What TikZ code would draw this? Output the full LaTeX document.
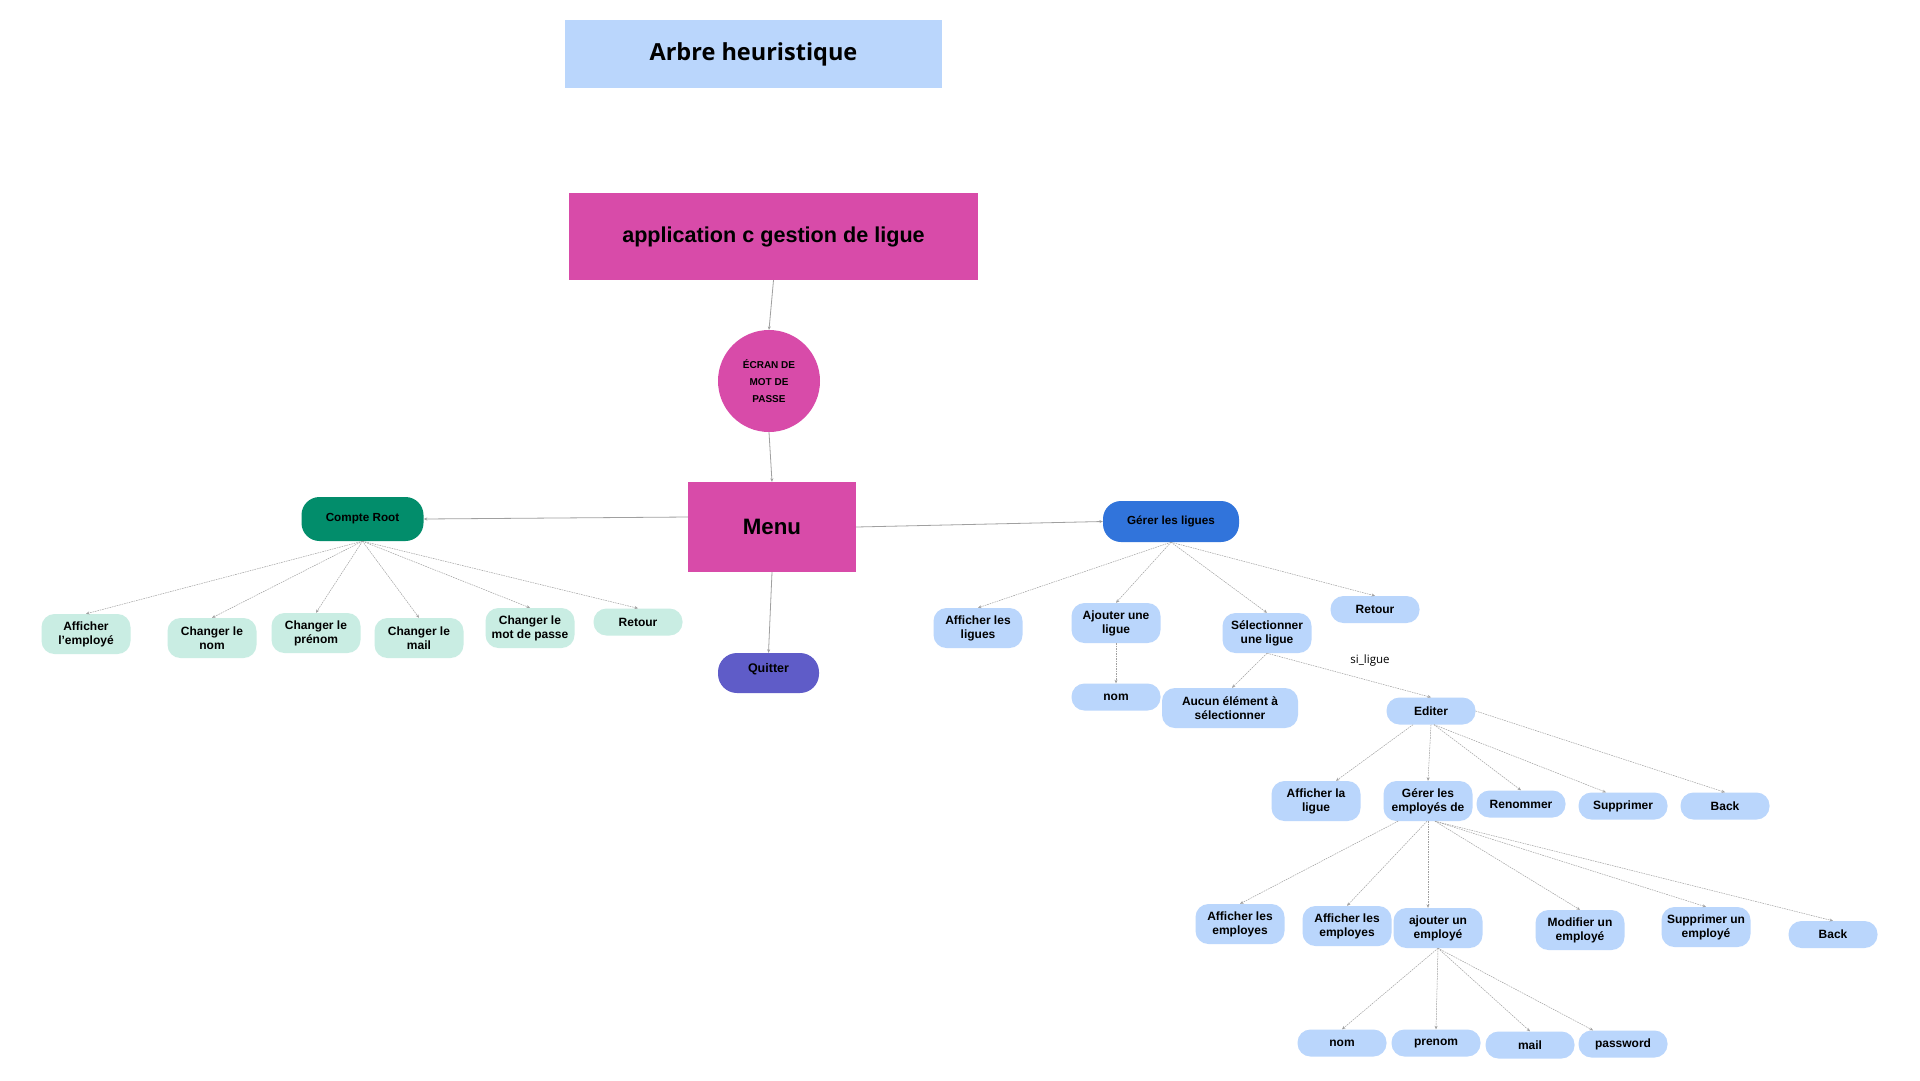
\documentclass[tikz,border=0pt]{standalone}
\usepackage{fontspec}
\setmainfont{Liberation Sans}
\newfontfamily\titlefont{Open Sans}
\newfontfamily\labelfont{Open Sans}
\usetikzlibrary{arrows.meta}
\definecolor{lblue}{HTML}{BAD6FC}
\definecolor{pinkc}{HTML}{D84BA9}
\definecolor{tealc}{HTML}{028D6B}
\definecolor{mintc}{HTML}{C9EDE3}
\definecolor{bluec}{HTML}{3174DB}
\definecolor{violc}{HTML}{5F5CC8}
\definecolor{linec}{HTML}{A0A0A0}
\tikzset{
  base/.style={inner sep=0pt, align=center, text=black, font=\bfseries\fontsize{12}{14}\selectfont},
  mint/.style={base, fill=mintc, rounded corners=13pt, minimum width=89pt, minimum height=40pt},
  blu/.style={base, fill=lblue, rounded corners=13pt, minimum width=89pt, minimum height=40pt},
  short/.style={minimum height=27pt},
  conn/.style={draw=linec, line width=0.8pt, -{Stealth[length=3.5pt,width=3pt]}},
  sub/.style={draw=linec, line width=0.5pt, dash pattern=on 1.6pt off 0.9pt, -{Stealth[length=3.5pt,width=3pt]}}
}
\begin{document}
\begin{tikzpicture}[x=1pt,y=-1pt]
\useasboundingbox (0,0) rectangle (1920,1080);
\fill[white] (0,0) rectangle (1920,1080);

% top
\node[base, fill=lblue, minimum width=377pt, minimum height=68pt, font=\titlefont\bfseries\fontsize{23.5}{26}\selectfont] (title) at (753.5,54) {Arbre heuristique};
\node[base, fill=pinkc, minimum width=409pt, minimum height=87pt, font=\bfseries\fontsize{21.6}{24}\selectfont] (app) at (773.5,236.5) {application c gestion de ligue};
\node[base, circle, fill=pinkc, minimum size=102pt, font=\bfseries\fontsize{10}{17}\selectfont] (ecran) at (769,381) {ÉCRAN DE\\MOT DE\\PASSE};
\node[base, fill=pinkc, minimum width=168pt, minimum height=90pt, font=\bfseries\fontsize{22.3}{24}\selectfont] (menu) at (772,527) {Menu};
\node[base, fill=violc, rounded corners=19pt, minimum width=101pt, minimum height=40pt, font=\bfseries\fontsize{12.5}{14}\selectfont] (quit) at (768.5,673) {\raisebox{10pt}{Quitter}};
\node[base, fill=tealc, rounded corners=18pt, minimum width=122pt, minimum height=44pt, font=\bfseries\fontsize{11.7}{14}\selectfont] (root) at (362.5,519) {Compte Root};
\node[base, fill=bluec, rounded corners=18pt, minimum width=136pt, minimum height=41pt, font=\bfseries\fontsize{11.7}{14}\selectfont] (gl) at (1171,521.5) {Gérer les ligues};

% Compte Root children
\node[mint] (r1) at (86,634) {Afficher\\l'employé};
\node[mint] (r2) at (212,638) {Changer le\\nom};
\node[mint] (r3) at (316,633) {Changer le\\prénom};
\node[mint] (r4) at (419,638) {Changer le\\mail};
\node[mint] (r5) at (530,628) {Changer le\\mot de passe};
\node[mint, short] (r6) at (638,622) {Retour};

% Gerer les ligues children
\node[blu] (g1) at (978,628) {Afficher les\\ligues};
\node[blu] (g2) at (1116,623) {Ajouter une\\ligue};
\node[blu] (g3) at (1267,633) {Sélectionner\\une ligue};
\node[blu, short] (g4) at (1375,609.5) {Retour};
\node[blu, short] (gnom) at (1116,697) {nom};
\node[blu, minimum width=136pt] (aucun) at (1230,708) {Aucun élément à\\sélectionner};
\node[blu, short] (edit) at (1431,711) {Editer};
\node[inner sep=0pt, font=\labelfont\fontsize{11.5}{13}\selectfont] (silig) at (1370,661) {si\_ligue};

% Editer children
\node[blu] (e1) at (1316,801) {Afficher la\\ligue};
\node[blu] (e2) at (1428,801) {Gérer les\\employés de};
\node[blu, short] (e3) at (1521,804) {Renommer};
\node[blu, short] (e4) at (1623,806) {Supprimer};
\node[blu, short] (e5) at (1725,806) {Back};

% Gerer les employes children
\node[blu] (m1) at (1240,924) {Afficher les\\employes};
\node[blu] (m2) at (1347,926) {Afficher les\\employes};
\node[blu] (m3) at (1438,928) {ajouter un\\employé};
\node[blu] (m4) at (1580,930) {Modifier un\\employé};
\node[blu] (m5) at (1706,927) {Supprimer un\\employé};
\node[blu, short] (m6) at (1833,934.5) {Back};

% ajouter un employe children
\node[blu, short] (a1) at (1342,1043) {nom};
\node[blu, short] (a2) at (1436,1043) {prenom};
\node[blu, short] (a3) at (1530,1045) {mail};
\node[blu, short] (a4) at (1623,1044) {password};

% main connectors
\draw[conn] (app.south) -- (ecran.north);
\draw[conn] (ecran.south) -- (menu.north);
\draw[conn] ([yshift=10pt]menu.west) -- (root.east);
\draw[conn] (menu.east) -- (gl.west);
\draw[conn] (menu.south) -- (quit.north);

% root children
\foreach \c in {r1,r2,r3,r4,r5,r6} \draw[sub] (root.south) -- (\c.north);

% gl children
\foreach \c in {g1,g2,g3,g4} \draw[sub] (gl.south) -- (\c.north);
\draw[sub] (g2.south) -- (gnom.north);
\draw[sub] (g3.south) -- ([xshift=2pt]aucun.north);
\draw[sub] (g3.south) -- (edit.north);

% editer children
\draw[sub] ([xshift=-18pt]edit.south) -- ([xshift=20pt]e1.north);
\draw[sub] (edit.south) -- (e2.north);
\draw[sub] ([xshift=3pt]edit.south) -- (e3.north);
\draw[sub] ([xshift=3pt]edit.south) -- ([xshift=-17pt]e4.north);
\draw[sub] (edit.east) -- (e5.north);

% gerer employes children
\draw[sub] ([xshift=-30pt]e2.south) -- (m1.north);
\draw[sub] ([xshift=-1pt]e2.south) -- (m2.north);
\draw[sub] (e2.south) -- (e2.south |- m3.north);
\draw[sub] ([xshift=7pt]e2.south) -- (m4.north);
\draw[sub] ([xshift=7pt]e2.south) -- (m5.north);
\draw[sub] ([xshift=7pt]e2.south) -- (m6.north);

% ajouter employe children
\draw[sub] (m3.south) -- (a1.north);
\draw[sub] (m3.south) -- (a2.north);
\draw[sub] (m3.south) -- (a3.north);
\draw[sub] (m3.south) -- ([xshift=-30pt]a4.north);
\end{tikzpicture}
\end{document}
